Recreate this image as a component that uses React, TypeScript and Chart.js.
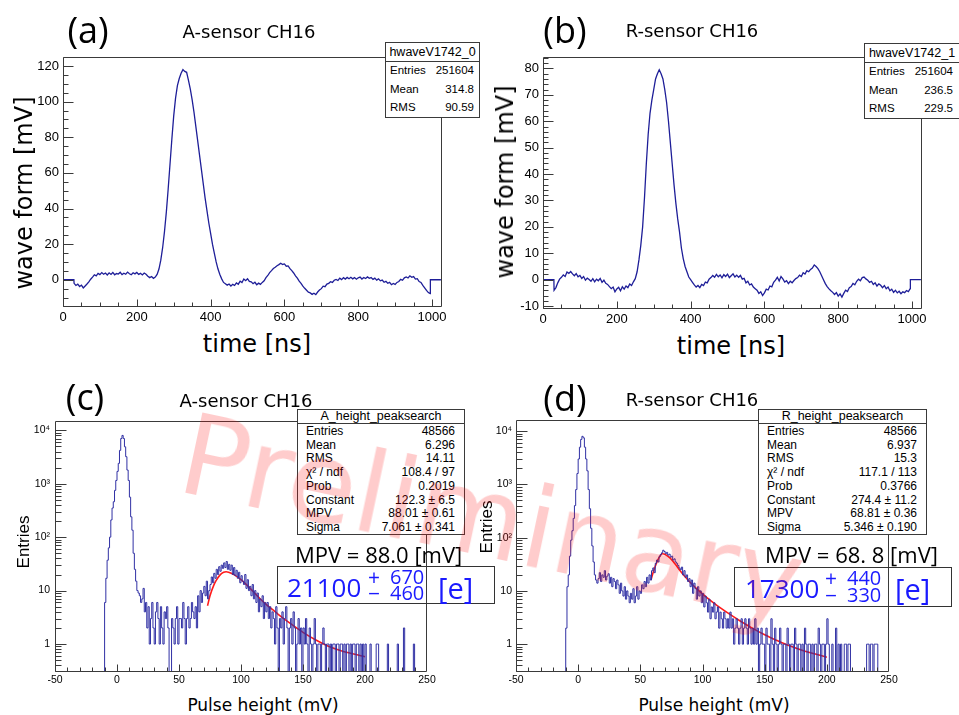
import React, { useEffect, useRef } from 'react';
import { Chart, registerables } from 'chart.js';

Chart.register(...registerables);

// ---------------- DATA ----------------
// Waveforms: samples every 5 ns starting at 30 ns
const WAVE_T0 = 30;
const WAVE_DT = 5;
const WAVE_EMPTY_BEFORE = [0, 29.5]; // empty bins (value 0) before the window
const WAVE_EMPTY_AFTER = [995.5, 1024]; // empty bins after the window

const WAVE_A = [
  -2.0, -3.2, -2.5, -3.8, -3.0, -4.6, -3.5, -2.4, -1.2, 0.3,
  1.5, 2.8, 2.2, 3.6, 2.9, 4.0, 3.1, 3.8, 2.7, 3.9,
  3.0, 4.1, 2.8, 3.5, 3.2, 4.2, 2.9, 3.7, 3.1, 4.3,
  3.4, 2.8, 3.9, 3.3, 4.1, 3.0, 3.6, 2.7, 3.8, 3.1,
  2.0, 1.2, 1.8, 0.8, 1.5, 3, 6, 11, 18, 27,
  38, 51, 65, 79, 92, 102, 109, 113, 116, 118,
  117, 116.5, 112, 107, 101, 94, 86, 78, 70, 62,
  54, 46, 39, 32, 26, 20, 15, 10, 6, 3,
  0.5, -1.5, -2.2, -3.0, -2.4, -3.5, -2.6, -3.2, -1.8, -2.5,
  -0.8, -1.6, 0.4, -0.5, 0.6, -0.9, -1.2, -2.2, -1.4, -2.8,
  -1.9, -2.6, -1.5, -0.6, 1.2, 2.4, 4.0, 5.1, 6.3, 7.0,
  7.9, 8.5, 9.3, 8.6, 8.9, 7.6, 7.8, 6.2, 5.1, 3.8,
  2.2, 0.9, -0.8, -2.0, -3.6, -4.8, -5.9, -7.0, -7.4, -8.2,
  -7.6, -8.3, -6.9, -5.8, -5.0, -3.6, -3.9, -2.4, -2.0, -1.1,
  -1.5, -0.3, 0.2, -0.4, 0.9, 0.1, 1.2, 0.4, 1.3, 0.6,
  1.4, 0.5, 1.2, 0.3, 1.1, 1.5, 0.4, 1.3, 0.7, 1.6,
  0.8, 1.2, 0.2, 0.9, -0.2, 0.5, -0.6, -0.2, -1.4, -0.9,
  -2.0, -1.5, -2.8, -2.1, -2.6, -1.5, -1.0, 0.2, -0.3, 1.1,
  1.6, 1.0, 2.2, 1.4, 1.8, 0.4, 0.6, -1.0, -1.5, -3.2,
  -4.5, -6.0, -7.2, -7.8,
];

const WAVE_B = [
  -4.0, -3.0, -1.2, 0.2, 0.9, 1.8, 1.2, 2.9, 2.4, 3.1,
  2.2, 1.5, 2.3, 1.1, 1.6, 0.5, 1.2, -0.2, 0.6, 0.1,
  -0.6, 0.4, -0.8, 0.2, -0.4, 0.5, -1.0, -0.2, -1.4, -1.8,
  -2.6, -3.4, -2.8, -4.6, -3.5, -2.9, -4.2, -2.7, -3.6, -2.4,
  -3.0, -1.6, -2.2, -0.8, 0.4, 3.0, 7.5, 13, 20, 31,
  44, 55, 63, 68, 72, 76, 78, 79.5, 78, 76,
  72, 67, 60, 52, 44, 36, 29, 23, 18, 12,
  8, 5, 3, 1, 0, -1, -2, -2.8, -2.2, -3.0,
  -1.8, -2.2, -0.9, -1.2, 0.2, 0.8, 1.6, 0.9, 2.0, 1.1,
  1.8, 0.7, 1.9, 1.2, 2.1, 0.8, 1.5, 2.2, 1.0, 1.7,
  0.9, 1.6, 0.2, 0.5, -1.2, -0.6, -2.0, -1.6, -2.8, -3.4,
  -4.0, -5.2, -4.6, -6.0, -5.0, -3.6, -3.9, -2.4, -2.7, -1.0,
  -0.2, 0.9, -0.5, 1.2, 0.3, -0.9, -0.4, -1.5, -0.6, -1.2,
  -0.3, 0.4, 0.8, 1.7, 1.2, 2.6, 2.1, 3.4, 3.0, 3.9,
  4.4, 5.6, 5.0, 4.2, 3.0, 1.5, 0.0, -1.5, -2.6, -3.5,
  -4.2, -4.8, -5.6, -4.9, -6.2, -5.4, -6.6, -5.2, -4.0, -4.5,
  -3.0, -2.6, -1.4, -1.9, -0.6, 0.2, -0.4, 0.8, 1.0, 0.3,
  -0.2, -1.0, -0.6, -1.8, -1.2, -2.4, -1.6, -2.1, -3.0, -2.2,
  -3.4, -2.8, -4.2, -3.6, -4.8, -4.0, -5.0, -4.4, -5.3, -4.6,
  -4.9, -4.1, -4.5, -3.4,
];

const WAVE_X_TICKS = [0, 200, 400, 600, 800, 1000];
const WAVE_X_LABELS = ['0', '200', '400', '600', '800', '1000'];
const WAVE_A_Y_TICKS = [0, 20, 40, 60, 80, 100, 120];
const WAVE_A_Y_LABELS = ['0', '20', '40', '60', '80', '100', '120'];
const WAVE_B_Y_TICKS = [-10, 0, 10, 20, 30, 40, 50, 60, 70, 80];
const WAVE_B_Y_LABELS = ['-10', '0', '10', '20', '30', '40', '50', '60', '70', '80'];

// Pulse-height histograms: 1 mV bins, first bin lower edge at -10 mV
const HIST_BIN0 = -10;
const HIST_X_MIN = -50;
const HIST_C = [
  6, 17, 37, 63, 100, 210, 350, 460, 750, 1150,
  1700, 2400, 4200, 7000, 8000, 7000, 4900, 3200, 1800, 1150,
  560, 240, 135, 50, 25, 15, 10, 9, 8, 6,
  7, 11, 4, 6, 2, 5, 1, 3, 6, 2,
  1, 4, 6, 3, 1, 5, 2, 1, 4, 3,
  5, 2, 0, 0, 3, 2, 1, 3, 5, 1,
  3, 3, 2, 6, 3, 1, 3, 5, 2, 3,
  6, 4, 3, 5, 2, 8, 4, 10, 6, 9,
  12, 8, 15, 7, 10, 13, 18, 14, 21, 17,
  25, 20, 28, 23, 30, 26, 33, 27, 35, 25,
  31, 24, 30, 20, 27, 19, 24, 17, 22, 14,
  19, 15, 13, 20, 11, 16, 10, 12, 8, 13,
  7, 10, 6, 9, 4, 7, 5, 8, 3, 6,
  4, 6, 3, 5, 2, 4, 3, 1, 5, 2,
  0, 3, 2, 4, 1, 3, 5, 2, 0, 2,
  3, 1, 4, 2, 0, 1, 3, 1, 2, 0,
  2, 1, 3, 1, 0, 2, 1, 0, 1, 3,
  1, 0, 1, 1, 0, 1, 2, 1, 0, 1,
  1, 0, 1, 0, 1, 1, 0, 1, 1, 0,
  1, 1, 0, 1, 0, 1, 1, 0, 1, 0,
  1, 1, 0, 1, 1, 0, 1, 0, 1, 0,
  1, 0, 0, 0, 1, 0, 0, 0, 0, 1,
  1, 0, 0, 0, 0, 0, 0, 0, 1, 0,
  0, 0, 0, 0, 0, 0, 1, 0, 0, 0,
  0, 2, 0, 0, 0, 0, 0, 0, 0, 1,
  0, 0, 0, 0, 0,
];
const HIST_D = [
  2, 12, 20, 45, 90, 135, 230, 400, 800, 1600,
  3000, 5000, 7000, 8000, 7500, 5000, 3000, 1800, 800, 350,
  150, 70, 35, 20, 16, 14, 17, 22, 15, 20,
  18, 24, 16, 19, 21, 14, 18, 12, 17, 15,
  11, 16, 13, 9, 14, 10, 8, 12, 7, 10,
  8, 6, 9, 7, 11, 6, 8, 12, 7, 10,
  9, 13, 11, 15, 12, 18, 14, 20, 16, 24,
  27, 22, 33, 38, 35, 44, 48, 52, 58, 55,
  50, 53, 47, 49, 43, 45, 38, 40, 35, 33,
  30, 27, 25, 28, 20, 24, 18, 20, 15, 17,
  12, 16, 9, 14, 11, 7, 12, 8, 10, 6,
  9, 5, 8, 6, 4, 7, 3, 5, 4, 6,
  3, 4, 5, 2, 4, 3, 2, 4, 3, 2,
  3, 2, 4, 2, 3, 1, 2, 3, 2, 1,
  2, 3, 1, 2, 3, 2, 1, 3, 2, 1,
  2, 1, 3, 1, 2, 0, 1, 2, 1, 1,
  0, 2, 1, 1, 0, 3, 1, 0, 2, 1,
  0, 1, 2, 1, 0, 1, 1, 0, 2, 1,
  0, 1, 1, 0, 2, 1, 0, 1, 1, 0,
  1, 0, 2, 1, 0, 1, 1, 0, 1, 0,
  1, 1, 0, 2, 1, 0, 1, 1, 0, 1,
  3, 1, 0, 0, 1, 0, 0, 2, 0, 1,
  0, 1, 0, 0, 1, 1, 0, 1, 1, 0,
  0, 0, 0, 0, 0, 0, 0, 0, 0, 0,
  0, 0, 1, 1, 0, 1, 1, 0, 1, 1,
  1, 0, 0, 0, 0,
];

// Landau fit curves
const FIT_C_X = [73, 75, 78, 80, 83, 86, 88, 90, 95, 100, 105, 110, 115, 120, 125, 130, 140, 150, 160, 170, 180, 190, 200];
const FIT_C_Y = [5.2, 8, 12.5, 15.5, 19.5, 22, 22.5, 22, 19.5, 16, 12.5, 9.5, 7.2, 5.6, 4.5, 3.6, 2.4, 1.65, 1.2, 0.92, 0.76, 0.66, 0.58];
const FIT_D_X = [58.5, 60, 62, 64, 66, 67.5, 69, 72, 75, 78, 82, 86, 90, 95, 100, 105, 110, 115, 120, 130, 140, 150, 160, 170, 180, 190, 200];
const FIT_D_Y = [16, 21, 29, 38, 46, 50, 49.5, 45, 39, 32, 24, 18.5, 14.5, 11.2, 8.8, 7, 5.7, 4.7, 3.9, 2.75, 2.0, 1.5, 1.17, 0.93, 0.77, 0.66, 0.57];

const HIST_X_TICKS = [-50, 0, 50, 100, 150, 200, 250];
const HIST_X_LABELS = ['-50', '0', '50', '100', '150', '200', '250'];
const LOG_TICKS = [1, 10, 100, 1000, 10000];
const LOG_TICK_LABELS = ['1', '10', '10²', '10³', '10⁴'];

// Stat boxes
const STATS_A_TITLE = 'hwaveV1742_0';
const STATS_A = [['Entries', '251604'], ['Mean', '314.8'], ['RMS', '90.59']];
const STATS_B_TITLE = 'hwaveV1742_1';
const STATS_B = [['Entries', '251604'], ['Mean', '236.5'], ['RMS', '229.5']];
const STATS_C_TITLE = 'A_height_peaksearch';
const STATS_C = [
  ['Entries', '48566'], ['Mean', '6.296'], ['RMS', '14.11'], ['χ² / ndf', '108.4 / 97'],
  ['Prob', '0.2019'], ['Constant', '122.3 ± 6.5'], ['MPV', '88.01 ± 0.61'], ['Sigma', '7.061 ± 0.341'],
];
const STATS_D_TITLE = 'R_height_peaksearch';
const STATS_D = [
  ['Entries', '48566'], ['Mean', '6.937'], ['RMS', '15.3'], ['χ² / ndf', '117.1 / 113'],
  ['Prob', '0.3766'], ['Constant', '274.4 ± 11.2'], ['MPV', '68.81 ± 0.36'], ['Sigma', '5.346 ± 0.190'],
];

// ---------------- HELPERS ----------------
const ROOT_FONT = '"Liberation Sans", Arial, Helvetica, sans-serif';
const PPT_FONT = '"DejaVu Sans", Verdana, sans-serif';
const CAL_FONT = '"Open Sans", "Noto Sans", sans-serif';
const HIST_FLOOR = 0.02; // empty bins drawn below the axis (clipped)

function wavePoints(vals: number[]) {
  const pts: { x: number; y: number }[] = [];
  WAVE_EMPTY_BEFORE.forEach((t) => pts.push({ x: t, y: 0 }));
  vals.forEach((v, i) => pts.push({ x: WAVE_T0 + i * WAVE_DT, y: v }));
  WAVE_EMPTY_AFTER.forEach((t) => pts.push({ x: t, y: 0 }));
  return pts;
}

function histPoints(counts: number[]) {
  const pts: { x: number; y: number }[] = [{ x: HIST_X_MIN, y: HIST_FLOOR }];
  counts.forEach((c, i) => pts.push({ x: HIST_BIN0 + i, y: c > 0 ? c : HIST_FLOOR }));
  pts.push({ x: HIST_BIN0 + counts.length, y: HIST_FLOOR });
  return pts;
}

function fitPoints(xs: number[], ys: number[]) {
  return xs.map((x, i) => ({ x, y: ys[i] }));
}

function linearMinor(min: number, max: number, step: number) {
  const out: number[] = [];
  for (let k = Math.ceil(min / step); k * step <= max; k++) out.push(k * step);
  return out;
}
function logMinor(min: number, max: number) {
  const out: number[] = [];
  for (let e = Math.floor(Math.log10(min)); e <= Math.ceil(Math.log10(max)); e++) {
    for (let m = 2; m <= 9; m++) {
      const v = m * Math.pow(10, e);
      if (v >= min && v <= max) out.push(v);
    }
  }
  return out;
}

const rootFrame = {
  id: 'rootFrame',
  afterDatasetsDraw(chart: any, _a: any, opts: any) {
    const { ctx, chartArea: a } = chart;
    const xs = chart.scales.x;
    const ys = chart.scales.y;
    const L = Math.round(a.left) + 0.5;
    const R = Math.round(a.right) - 0.5;
    const T = Math.round(a.top) + 0.5;
    const B = Math.round(a.bottom) - 0.5;
    ctx.save();
    ctx.strokeStyle = opts.color;
    ctx.lineWidth = 1;
    ctx.beginPath();
    ctx.rect(L, T, R - L, B - T);
    const xt = (vals: number[], len: number) => {
      vals.forEach((v) => {
        const p = Math.round(xs.getPixelForValue(v)) + 0.5;
        if (p < L - 0.1 || p > R + 0.1) return;
        ctx.moveTo(p, B);
        ctx.lineTo(p, B - len);
      });
    };
    const yt = (vals: number[], len: number) => {
      vals.forEach((v) => {
        const p = Math.round(ys.getPixelForValue(v)) + 0.5;
        if (p < T - 0.1 || p > B + 0.1) return;
        ctx.moveTo(L, p);
        ctx.lineTo(L + len, p);
      });
    };
    xt(opts.xMinor, opts.xMinorLen);
    xt(opts.xMajor, opts.xMajorLen);
    yt(opts.yMinor, opts.yMinorLen);
    yt(opts.yMajor, opts.yMajorLen);
    ctx.stroke();
    ctx.restore();
  },
};

type AxisSpec = {
  type?: 'linear' | 'logarithmic';
  min: number;
  max: number;
  ticks: number[];
  labels: string[];
  minor: number[];
  font: number;
  pad: number;
  majorLen: number;
  minorLen: number;
};
type PanelSpec = {
  box: { left: number; top: number; width: number; height: number };
  frame: { L: number; T: number; R: number; B: number };
  datasets: any[];
  x: AxisSpec;
  y: AxisSpec;
};

function ChartPanel({ spec }: { spec: PanelSpec }) {
  const ref = useRef<HTMLCanvasElement>(null);
  useEffect(() => {
    const c = ref.current;
    if (!c) return;
    const { box, frame, x, y } = spec;
    const axisW = frame.L - box.left;
    const axisH = box.top + box.height - frame.B;
    const chart = new Chart(c, {
      type: 'line',
      data: { datasets: spec.datasets },
      options: {
        responsive: false,
        maintainAspectRatio: false,
        animation: false,
        events: [],
        layout: {
          autoPadding: false,
          padding: { left: 0, bottom: 0, top: frame.T - box.top, right: box.left + box.width - frame.R },
        },
        plugins: {
          legend: { display: false },
          tooltip: { enabled: false },
          rootFrame: {
            color: '#3a3a3a',
            xMajor: x.ticks, xMinor: x.minor, xMajorLen: x.majorLen, xMinorLen: x.minorLen,
            yMajor: y.ticks, yMinor: y.minor, yMajorLen: y.majorLen, yMinorLen: y.minorLen,
          },
        } as any,
        scales: {
          x: {
            type: 'linear',
            min: x.min,
            max: x.max,
            grid: { display: false, drawTicks: false },
            border: { display: false },
            afterBuildTicks: (s: any) => { s.ticks = x.ticks.map((v) => ({ value: v })); },
            afterFit: (s: any) => { s.height = axisH; },
            ticks: {
              autoSkip: false, maxRotation: 0, minRotation: 0, padding: x.pad, color: '#000',
              font: { family: ROOT_FONT, size: x.font },
              callback: (_v: any, i: number) => x.labels[i],
            },
          },
          y: {
            type: y.type || 'linear',
            min: y.min,
            max: y.max,
            grid: { display: false, drawTicks: false },
            border: { display: false },
            afterBuildTicks: (s: any) => { s.ticks = y.ticks.map((v) => ({ value: v })); },
            afterFit: (s: any) => { s.width = axisW; },
            ticks: {
              autoSkip: false, padding: y.pad, color: '#000',
              font: { family: ROOT_FONT, size: y.font },
              callback: (_v: any, i: number) => y.labels[i],
            },
          },
        } as any,
      },
      plugins: [rootFrame as any],
    });
    return () => chart.destroy();
  }, [spec]);
  const { box } = spec;
  return (
    <canvas
      ref={ref}
      width={box.width}
      height={box.height}
      style={{ position: 'absolute', left: box.left, top: box.top, width: box.width, height: box.height }}
    />
  );
}

type TxtProps = {
  x: number; y: number; size: number; family: string; color?: string;
  anchor?: 'left' | 'center' | 'right'; rotate?: number; children: React.ReactNode;
};
function Txt({ x, y, size, family, color = '#000', anchor = 'center', rotate = 0, children }: TxtProps) {
  const tx = anchor === 'left' ? '0' : anchor === 'right' ? '-100%' : '-50%';
  return (
    <div
      style={{
        position: 'absolute', left: x, top: y, whiteSpace: 'nowrap', lineHeight: 1,
        fontFamily: family, fontSize: size, color,
        transform: `translate(${tx},-50%)${rotate ? ` rotate(${rotate}deg)` : ''}`,
      }}
    >
      {children}
    </div>
  );
}

type StatProps = {
  left: number; top: number; width: number; height: number; titleH: number;
  title: string; rows: string[][]; font: number; titleFont: number; padL: number; padR: number;
};
function StatBox({ left, top, width, height, titleH, title, rows, font, titleFont, padL, padR }: StatProps) {
  const rowH = (height - titleH - 2) / rows.length;
  return (
    <div
      style={{
        position: 'absolute', left, top, width, height, boxSizing: 'border-box',
        border: '1px solid #3a3a3a', background: '#fff', fontFamily: ROOT_FONT, fontSize: font, color: '#000',
      }}
    >
      <div
        style={{
          height: titleH, boxSizing: 'border-box', borderBottom: '1px solid #3a3a3a', fontSize: titleFont,
          display: 'flex', alignItems: 'center', justifyContent: 'center', lineHeight: 1,
        }}
      >
        {title}
      </div>
      {rows.map(([k, v], i) => (
        <div
          key={i}
          style={{
            height: rowH, display: 'flex', alignItems: 'center', justifyContent: 'space-between',
            paddingLeft: padL, paddingRight: padR, lineHeight: 1, boxSizing: 'border-box',
          }}
        >
          <span>{k}</span>
          <span>{v}</span>
        </div>
      ))}
    </div>
  );
}

function ElectronBox({ box, main, plus, minus, mainX, pmX, numX, eX, cy, upY, dnY }: any) {
  return (
    <>
      <div
        style={{
          position: 'absolute', left: box.left, top: box.top, width: box.width, height: box.height,
          boxSizing: 'border-box', border: '1.5px solid #333',
        }}
      />
      <Txt x={mainX} y={cy} size={26} family={CAL_FONT} color="#1a1aff" anchor="left">{main}</Txt>
      <Txt x={pmX} y={upY} size={21} family={CAL_FONT} color="#1a1aff">+</Txt>
      <Txt x={pmX} y={dnY} size={21} family={CAL_FONT} color="#1a1aff">−</Txt>
      <Txt x={numX} y={upY} size={20} family={CAL_FONT} color="#1a1aff" anchor="left">{plus}</Txt>
      <Txt x={numX} y={dnY} size={20} family={CAL_FONT} color="#1a1aff" anchor="left">{minus}</Txt>
      <Txt x={eX} y={cy} size={29} family={CAL_FONT} color="#1a1aff" anchor="left">[e]</Txt>
    </>
  );
}

// ---------------- PANELS ----------------
const WAVE_COLOR = '#1e1e98';
const HIST_COLOR = '#3030a4';
const FIT_COLOR = '#ff1a1a';

const SPEC_A: PanelSpec = {
  box: { left: 0, top: 45, width: 460, height: 285 },
  frame: { L: 63, T: 53, R: 442, B: 307 },
  datasets: [{ data: wavePoints(WAVE_A), borderColor: WAVE_COLOR, borderWidth: 1.3, pointRadius: 0, tension: 0, fill: false }],
  x: { min: 0, max: 1027, ticks: WAVE_X_TICKS, labels: WAVE_X_LABELS, minor: linearMinor(0, 1027, 50), font: 13, pad: 3, majorLen: 7, minorLen: 4 },
  y: { min: -15.3, max: 125.2, ticks: WAVE_A_Y_TICKS, labels: WAVE_A_Y_LABELS, minor: linearMinor(-15.3, 125.2, 5), font: 13, pad: 4, majorLen: 10, minorLen: 5 },
};
const SPEC_B: PanelSpec = {
  box: { left: 480, top: 45, width: 470, height: 285 },
  frame: { L: 543, T: 54, R: 922, B: 309 },
  datasets: [{ data: wavePoints(WAVE_B), borderColor: WAVE_COLOR, borderWidth: 1.3, pointRadius: 0, tension: 0, fill: false }],
  x: { min: 0, max: 1027, ticks: WAVE_X_TICKS, labels: WAVE_X_LABELS, minor: linearMinor(0, 1027, 50), font: 13, pad: 3, majorLen: 7, minorLen: 4 },
  y: { min: -11.1, max: 84.4, ticks: WAVE_B_Y_TICKS, labels: WAVE_B_Y_LABELS, minor: linearMinor(-11.1, 84.4, 2), font: 13, pad: 4, majorLen: 10, minorLen: 5 },
};
const SPEC_C: PanelSpec = {
  box: { left: 0, top: 410, width: 450, height: 280 },
  frame: { L: 55, T: 421, R: 427, B: 672 },
  datasets: [
    { data: histPoints(HIST_C), borderColor: HIST_COLOR, borderWidth: 1, pointRadius: 0, stepped: true, fill: false },
    { data: fitPoints(FIT_C_X, FIT_C_Y), borderColor: FIT_COLOR, borderWidth: 1.6, pointRadius: 0, cubicInterpolationMode: 'monotone', fill: false },
  ],
  x: { min: -50, max: 250, ticks: HIST_X_TICKS, labels: HIST_X_LABELS, minor: linearMinor(-50, 250, 10), font: 10.5, pad: 2, majorLen: 7, minorLen: 4 },
  y: { type: 'logarithmic', min: 0.304, max: 14700, ticks: LOG_TICKS, labels: LOG_TICK_LABELS, minor: logMinor(0.304, 14700), font: 10.5, pad: 5, majorLen: 11, minorLen: 6 },
};
const SPEC_D: PanelSpec = {
  box: { left: 480, top: 410, width: 450, height: 280 },
  frame: { L: 516, T: 419, R: 889, B: 672 },
  datasets: [
    { data: histPoints(HIST_D), borderColor: HIST_COLOR, borderWidth: 1, pointRadius: 0, stepped: true, fill: false },
    { data: fitPoints(FIT_D_X, FIT_D_Y), borderColor: FIT_COLOR, borderWidth: 1.6, pointRadius: 0, cubicInterpolationMode: 'monotone', fill: false },
  ],
  x: { min: -50, max: 250, ticks: HIST_X_TICKS, labels: HIST_X_LABELS, minor: linearMinor(-50, 250, 10), font: 10.5, pad: 2, majorLen: 7, minorLen: 4 },
  y: { type: 'logarithmic', min: 0.303, max: 16000, ticks: LOG_TICKS, labels: LOG_TICK_LABELS, minor: logMinor(0.303, 16000), font: 10.5, pad: 4, majorLen: 11, minorLen: 6 },
};

export default function App() {
  return (
    <div style={{ position: 'absolute', left: 0, top: 0, width: 959, height: 715, background: '#fff', overflow: 'hidden' }}>
      <ChartPanel spec={SPEC_A} />
      <ChartPanel spec={SPEC_B} />
      <ChartPanel spec={SPEC_C} />
      <ChartPanel spec={SPEC_D} />

      {/* panel (a) */}
      <Txt x={88} y={30} size={36} family={CAL_FONT}>(a)</Txt>
      <Txt x={249} y={32} size={18} family={PPT_FONT}>A-sensor CH16</Txt>
      <Txt x={257} y={344} size={24} family={PPT_FONT}>time [ns]</Txt>
      <Txt x={24} y={193} size={24} family={PPT_FONT} rotate={-90}>wave form [mV]</Txt>
      <StatBox left={385} top={42} width={95} height={76} titleH={19} title={STATS_A_TITLE} rows={STATS_A} font={11.5} titleFont={12.5} padL={4} padR={5} />

      {/* panel (b) */}
      <Txt x={565} y={30} size={36} family={CAL_FONT}>(b)</Txt>
      <Txt x={692} y={31} size={18} family={PPT_FONT}>R-sensor CH16</Txt>
      <Txt x={731} y={346} size={24} family={PPT_FONT}>time [ns]</Txt>
      <Txt x={505} y={182} size={24} family={PPT_FONT} rotate={-90}>wave form [mV]</Txt>
      <StatBox left={864} top={43} width={96} height={76} titleH={19} title={STATS_B_TITLE} rows={STATS_B} font={11.5} titleFont={12.5} padL={4} padR={6} />

      {/* panel (c) */}
      <Txt x={85} y={397} size={36} family={CAL_FONT}>(c)</Txt>
      <Txt x={246} y={401} size={18} family={PPT_FONT}>A-sensor CH16</Txt>
      <Txt x={263} y={705} size={17} family={PPT_FONT}>Pulse height (mV)</Txt>
      <Txt x={23} y={542} size={17} family={ROOT_FONT} rotate={-90}>Entries</Txt>
      <StatBox left={297} top={409} width={168} height={126} titleH={14} title={STATS_C_TITLE} rows={STATS_C} font={12} titleFont={12.5} padL={8} padR={9} />
      <Txt x={295} y={554} size={22} family={CAL_FONT} anchor="left">MPV = 88.0 [mV]</Txt>
      <ElectronBox
        box={{ left: 277, top: 566, width: 218, height: 38 }}
        main="21100" plus="670" minus="460"
        mainX={287} pmX={374} numX={390} eX={438} cy={587} upY={577} dnY={593}
      />

      {/* panel (d) */}
      <Txt x={565} y={398} size={36} family={CAL_FONT}>(d)</Txt>
      <Txt x={692} y={400} size={18} family={PPT_FONT}>R-sensor CH16</Txt>
      <Txt x={714} y={705} size={17} family={PPT_FONT}>Pulse height (mV)</Txt>
      <Txt x={486} y={527} size={17} family={ROOT_FONT} rotate={-90}>Entries</Txt>
      <StatBox left={758} top={409} width={169} height={126} titleH={14} title={STATS_D_TITLE} rows={STATS_D} font={12} titleFont={12.5} padL={8} padR={9} />
      <Txt x={765} y={554} size={22} family={CAL_FONT} anchor="left">MPV = 68. 8 [mV]</Txt>
      <ElectronBox
        box={{ left: 734, top: 567, width: 218, height: 40 }}
        main="17300" plus="440" minus="330"
        mainX={745} pmX={831} numX={847} eX={895} cy={588} upY={578} dnY={595}
      />

      {/* watermark */}
      <div
        style={{
          position: 'absolute', left: 492, top: 518, whiteSpace: 'nowrap', lineHeight: 1,
          fontFamily: PPT_FONT, fontSize: 112, color: 'rgba(255,0,0,0.2)', pointerEvents: 'none',
          transform: 'translate(-50%,-50%) rotate(12deg)',
        }}
      >
        Preliminary
      </div>
    </div>
  );
}
